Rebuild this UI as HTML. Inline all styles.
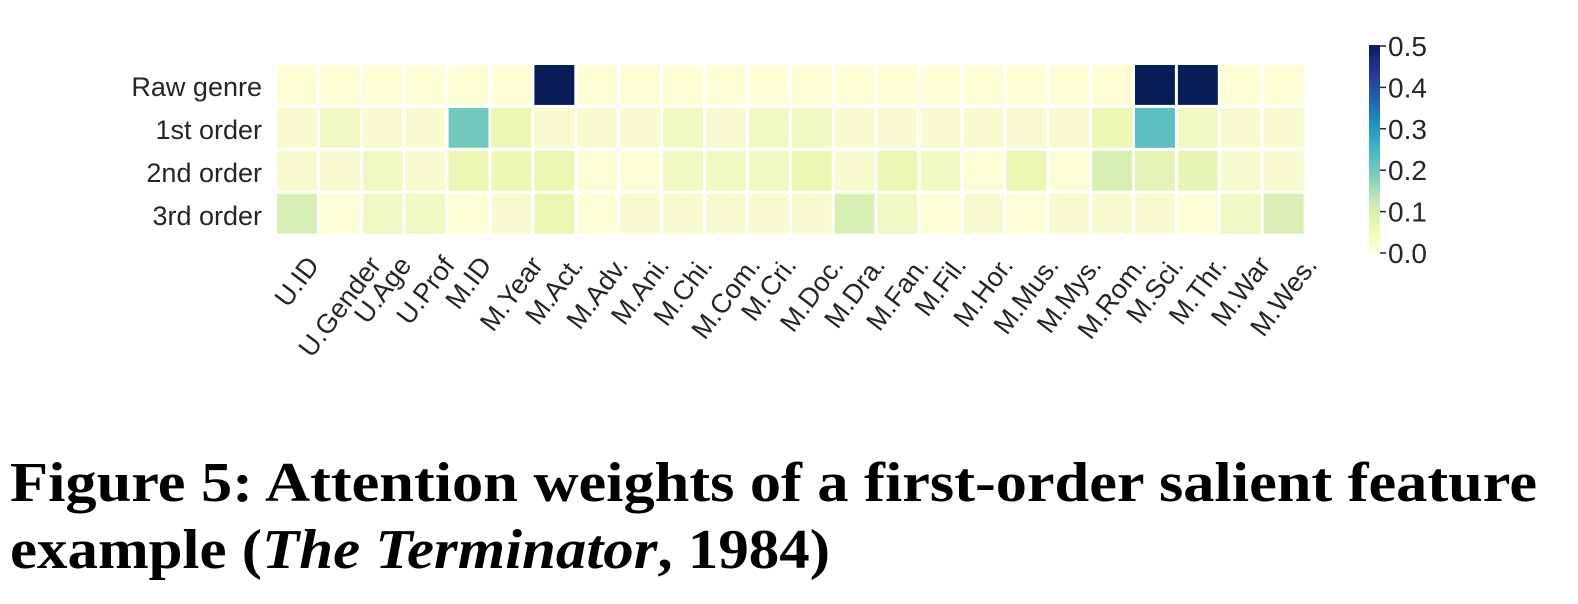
<!DOCTYPE html>
<html><head><meta charset="utf-8"><style>
html,body{margin:0;padding:0;background:#fff;width:1578px;height:604px;overflow:hidden}
svg{display:block}
</style></head><body>
<svg id="s" width="1578" height="604" xmlns="http://www.w3.org/2000/svg">
<defs><linearGradient id="cb" x1="0" y1="1" x2="0" y2="0">
<stop offset="0" stop-color="#ffffd9"/><stop offset="0.125" stop-color="#edf8b1"/><stop offset="0.25" stop-color="#c7e9b4"/><stop offset="0.375" stop-color="#7fcdbb"/><stop offset="0.5" stop-color="#41b6c4"/><stop offset="0.625" stop-color="#1d91c0"/><stop offset="0.75" stop-color="#225ea8"/><stop offset="0.875" stop-color="#253494"/><stop offset="1" stop-color="#081d58"/></linearGradient></defs>
<g id="cells"></g>
<g id="ylab" font-family="Liberation Sans, Arial, sans-serif" font-size="27" fill="#262626" text-anchor="end">
<text x="262" y="96">Raw genre</text>
<text x="262" y="139">1st order</text>
<text x="262" y="182">2nd order</text>
<text x="262" y="225">3rd order</text>
</g>
<g id="xlab" font-family="Liberation Sans, Arial, sans-serif" font-size="27" fill="#262626"></g>
<rect x="1369" y="45" width="11" height="208" fill="url(#cb)"/>
<g font-family="Liberation Sans, Arial, sans-serif" font-size="28" fill="#262626" stroke="#262626">
<g stroke-width="1.5">
<line x1="1380" y1="46" x2="1386" y2="46"/><line x1="1380" y1="87.4" x2="1386" y2="87.4"/><line x1="1380" y1="128.8" x2="1386" y2="128.8"/><line x1="1380" y1="170.2" x2="1386" y2="170.2"/><line x1="1380" y1="211.6" x2="1386" y2="211.6"/><line x1="1380" y1="253" x2="1386" y2="253"/></g>
<g stroke="none">
<text x="1388" y="56">0.5</text><text x="1388" y="97.4">0.4</text><text x="1388" y="138.8">0.3</text><text x="1388" y="180.2">0.2</text><text x="1388" y="221.6">0.1</text><text x="1388" y="263">0.0</text></g>
</g>
<text x="10" y="501" font-family="Liberation Serif, serif" font-weight="bold" font-size="56" textLength="1527" lengthAdjust="spacingAndGlyphs">Figure 5: Attention weights of a first-order salient feature</text>
<text x="10" y="568" font-family="Liberation Serif, serif" font-weight="bold" font-size="56" textLength="820" lengthAdjust="spacingAndGlyphs">example (<tspan font-style="italic">The Terminator</tspan>, 1984)</text>
</svg>
<script>
var NS="http://www.w3.org/2000/svg";
var N="#081d58",L0="#fdfed6",L1="#f8fbcf",L2="#f1f8c2",L3="#ecf7b4",G="#d7f0b4";
var rows=[
[L0,L0,L0,L0,L0,L0,N,L0,L0,L0,L0,L0,L0,L0,L0,L0,L0,L0,L0,L0,N,N,L0,L0],
[L1,L2,L1,L1,"#73c8bd",L3,L1,L1,L1,L2,L1,L2,L2,L1,L1,L1,L1,L1,L1,L3,"#5cc0c0",L2,L1,L1],
[L1,L1,L2,L1,L3,L3,L3,L0,L0,L2,L2,L2,L3,L1,L3,L2,L0,L3,L0,G,"#e3f4b6","#e6f5b4",L1,L1],
[G,L0,L2,L2,L0,L1,L3,L0,L1,L1,L1,L1,L1,G,L2,L0,L1,L0,L1,L1,L1,L0,L2,"#daf0b4"]];
var g=document.getElementById("cells");
var x0=277,cw=42.9,y0=65,rh=42.9;
for(var r=0;r<4;r++)for(var c=0;c<24;c++){var e=document.createElementNS(NS,"rect");
e.setAttribute("x",x0+c*cw);e.setAttribute("y",y0+r*rh);e.setAttribute("width",cw-3);e.setAttribute("height",rh-3);e.setAttribute("fill",rows[r][c]);g.appendChild(e);}
var labs=["U.ID","U.Gender","U.Age","U.Prof","M.ID","M.Year","M.Act.","M.Adv.","M.Ani.","M.Chi.","M.Com.","M.Cri.","M.Doc.","M.Dra.","M.Fan.","M.Fil.","M.Hor.","M.Mus.","M.Mys.","M.Rom.","M.Sci.","M.Thr.","M.War","M.Wes."];
var xg=document.getElementById("xlab");var a=53*Math.PI/180,h=20;
labs.forEach(function(t,i){var e=document.createElementNS(NS,"text");e.textContent=t;
e.setAttribute("text-anchor","middle");e.setAttribute("dominant-baseline","central");xg.appendChild(e);
var L=e.getComputedTextLength();var cx=x0+i*cw+cw/2-1.5;var cy=254+(L*Math.sin(a)+h*Math.cos(a))/2;
e.setAttribute("x",cx);e.setAttribute("y",cy);e.setAttribute("transform","rotate(-53 "+cx+" "+cy+")");});
</script>
</body></html>
